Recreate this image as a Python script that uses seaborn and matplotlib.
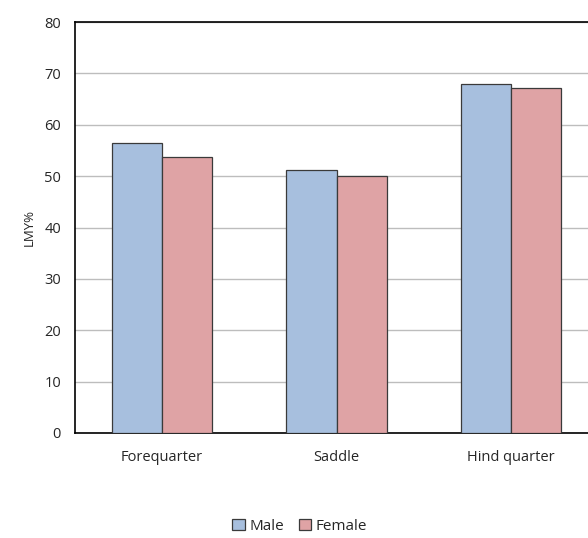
import pandas as pd
import numpy as np
import matplotlib
matplotlib.use("Agg")
import matplotlib.pyplot as plt
import seaborn as sns

# data
cuts = ['Forequarter', 'Saddle', 'Hind quarter']
male = [56.4, 51.2, 67.9]
female = [53.8, 50.0, 67.1]

df = pd.DataFrame({
    'cut': cuts * 2,
    'sex': ['Male'] * 3 + ['Female'] * 3,
    'LMY': male + female,
})

sns.set_style('white')
plt.rcParams['font.family'] = ['Open Sans', 'DejaVu Sans']

fig = plt.figure(figsize=(5.88, 5.38), dpi=100)
ax = fig.add_axes([75 / 588, 1 - 433 / 538, 523 / 588, 411 / 538])

palette = {'Male': '#A7BFDE', 'Female': '#DFA3A5'}
sns.barplot(data=df, x='cut', y='LMY', hue='sex', palette=palette,
            width=0.575, edgecolor='#3A3A3A', linewidth=0.9,
            saturation=1, ax=ax, legend=True, zorder=3)

ax.set_ylim(0, 80)
ax.set_xlim(-0.5, 2.5)
ax.set_yticks(np.arange(0, 81, 10))
ax.yaxis.grid(True, color='#BDBDBD', linewidth=1, zorder=0)
ax.set_axisbelow(True)
ax.set_xlabel('')
ax.set_ylabel('LMY%', fontsize=9.5, labelpad=6)

for side in ['left', 'bottom', 'top']:
    ax.spines[side].set_color('black')
    ax.spines[side].set_linewidth(1.2)
ax.spines['right'].set_visible(False)

ax.tick_params(axis='y', length=4, direction='in', labelsize=10.5, pad=10)
ax.tick_params(axis='x', which='major', length=0, labelsize=10.5, pad=12)
ax.set_xticks([0.5, 1.5], minor=True)
ax.tick_params(axis='x', which='minor', length=5, direction='in', width=1.2)

handles, labels = ax.get_legend_handles_labels()
ax.get_legend().remove()
fig.legend(handles, labels, loc='center', bbox_to_anchor=(0.51, 0.022),
           ncol=2, frameon=False, fontsize=11, handlelength=0.8,
           handleheight=0.8, handletextpad=0.3, columnspacing=1.0)

fig.savefig('out.png', dpi=100)
